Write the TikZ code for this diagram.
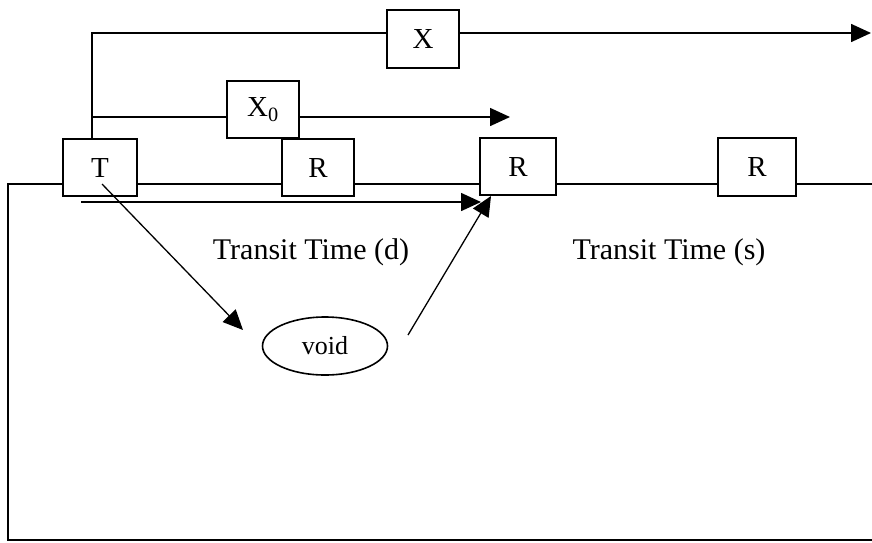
\documentclass[tikz,border=0pt]{standalone}
\usepackage{fontspec}
\setmainfont{Liberation Serif}
\usetikzlibrary{arrows.meta,shapes.geometric}
\begin{document}
\begin{tikzpicture}[x=1pt,y=-1pt,
  line width=1.6pt,
  blk/.style={draw,rectangle,inner sep=0pt,font=\fontsize{29}{29}\selectfont},
  lbl/.style={inner sep=0pt,font=\fontsize{30}{30}\selectfont},
  arr/.style={-{Triangle[length=20pt,width=18pt]}}]
\useasboundingbox (0,0) rectangle (872,542);
% boxes
\node[blk,minimum width=74pt,minimum height=57pt] (T) at (100,167.5) {T};
\node[blk,minimum width=72pt,minimum height=57pt] (X0) at (263,109.5) {X\textsubscript{0}};
\node[blk,minimum width=72pt,minimum height=57pt] (R1) at (318,167.5) {R};
\node[blk,minimum width=76pt,minimum height=57pt] (R2) at (518,166.5) {R};
\node[blk,minimum width=78pt,minimum height=58pt] (R3) at (757,167) {R};
\node[blk,minimum width=72pt,minimum height=58pt] (X) at (423,39) {X};
\node[draw,ellipse,inner sep=0pt,minimum width=125pt,minimum height=58pt,font=\fontsize{26}{26}\selectfont] (V) at (325,346) {void};
% labels
\node[lbl] (td) at (311,252) {Transit Time (d)};
\node[lbl] (ts) at (669,252) {Transit Time (s)};
% coordinates
\coordinate (m) at (0,184);
\coordinate (c0) at (8,184);
\coordinate (cb) at (8,540);
\coordinate (ce) at (872,540);
\coordinate (cr) at (872,184);
\coordinate (tx) at (92,33);
\coordinate (xe) at (871,33);
\coordinate (x0l) at (92,117);
\coordinate (x0e) at (510,117);
\coordinate (ua) at (81,202);
\coordinate (ub) at (481,202);
\coordinate (d1) at (102,184);
\coordinate (d2) at (243,330);
\coordinate (e1) at (408,335);
\coordinate (e2) at (491,196);
% main line and frame
\draw (cr) -- (R3.east|-m);
\draw (R3.west|-m) -- (R2.east|-m);
\draw (R2.west|-m) -- (R1.east|-m);
\draw (R1.west|-m) -- (T.east|-m);
\draw (T.west|-m) -- (c0) -- (cb) -- (ce);
% top branches
\draw (tx|-T.north) -- (tx) -- (X.west|-tx);
\draw[arr] (X.east|-tx) -- (xe);
\draw (x0l) -- (X0.west|-x0l);
\draw[arr] (X0.east|-x0l) -- (x0e);
% lower arrows
\draw[arr] (ua) -- (ub);
\draw[arr,line width=1.3pt] (d1) -- (d2);
\draw[arr,line width=1.3pt] (e1) -- (e2);
\end{tikzpicture}
\end{document}
